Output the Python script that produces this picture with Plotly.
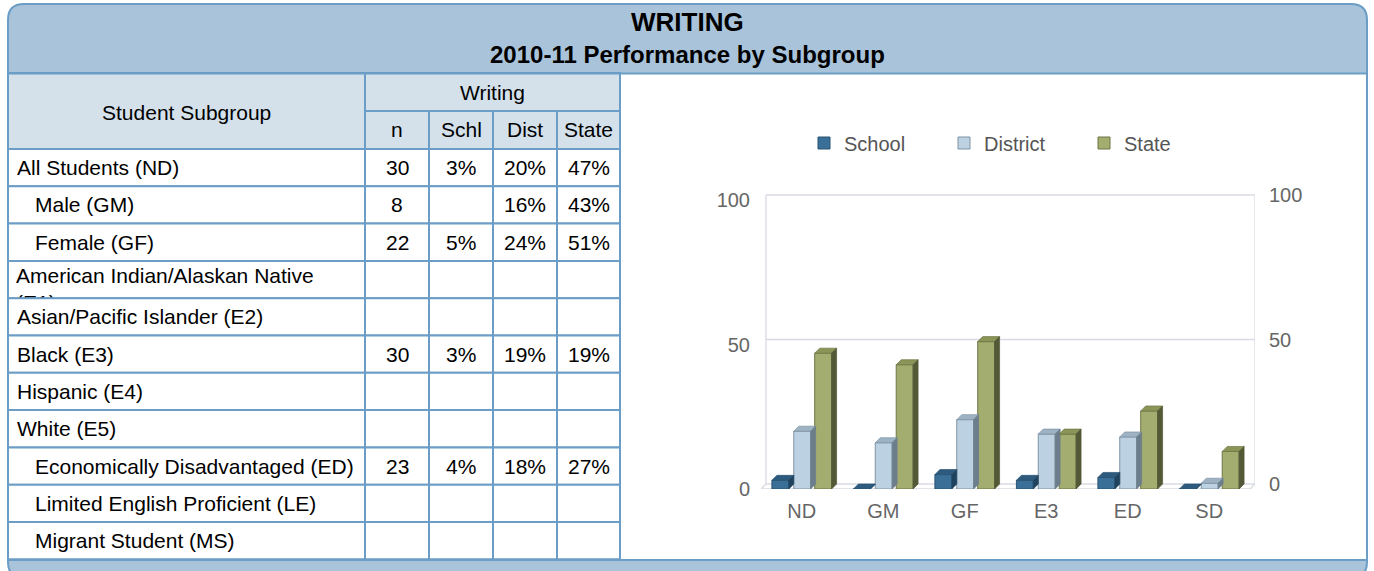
import plotly.graph_objects as go

W, H = 1374, 571

# ---------------- data ----------------
subgroups = ["All Students (ND)", "Male (GM)", "Female (GF)",
             "American Indian/Alaskan Native (E1)", "Asian/Pacific Islander (E2)",
             "Black (E3)", "Hispanic (E4)", "White (E5)",
             "Economically Disadvantaged (ED)", "Limited English Proficient (LE)",
             "Migrant Student (MS)"]
indented = [False, True, True, False, False, False, False, False, True, True, True]
n_col = ["30", "8", "22", "", "", "30", "", "", "23", "", ""]
schl_col = ["3%", "", "5%", "", "", "3%", "", "", "4%", "", ""]
dist_col = ["20%", "16%", "24%", "", "", "19%", "", "", "18%", "", ""]
state_col = ["47%", "43%", "51%", "", "", "19%", "", "", "27%", "", ""]
col_headers = ["n", "Schl", "Dist", "State"]

categories = ["ND", "GM", "GF", "E3", "ED", "SD"]
school_vals = [3, 0, 5, 3, 4, 0]
district_vals = [20, 16, 24, 19, 18, 2]
state_vals = [47, 43, 51, 19, 27, 13]
y_ticks = [0, 50, 100]

# ---------------- helpers ----------------
def px(x):
    return x / W

def py(y):
    return 1 - y / H

FONT = "Liberation Sans, Arial, sans-serif"
BORDER = "#6b9dc6"
HEAD = "#a9c4da"
CELLH = "#d4e1eb"
TS = 21  # table font size

shapes = []
annotations = []

# outer rounded box
L, T, R, B, r = 8, 4, 1367, 578, 16
path = (f"M {px(L)},{py(T + r)} Q {px(L)},{py(T)} {px(L + r)},{py(T)} "
        f"L {px(R - r)},{py(T)} Q {px(R)},{py(T)} {px(R)},{py(T + r)} "
        f"L {px(R)},{py(B - r)} Q {px(R)},{py(B)} {px(R - r)},{py(B)} "
        f"L {px(L + r)},{py(B)} Q {px(L)},{py(B)} {px(L)},{py(B - r)} Z")
shapes.append(dict(type="path", path=path, xref="paper", yref="paper",
                   fillcolor=HEAD, line=dict(color=BORDER, width=2), layer="below"))

# white chart panel
shapes.append(dict(type="rect", xref="paper", yref="paper", x0=px(621), x1=px(1366),
                   y0=py(559), y1=py(74), fillcolor="white", line=dict(width=0), layer="below"))

# table geometry
cols = [8, 365, 429, 493, 557, 620]
top_h, mid_h, data_top = 73, 111, 149
RH = 37.3

def cell(x0, y0, x1, y1, fill):
    shapes.append(dict(type="rect", xref="paper", yref="paper", x0=px(x0), x1=px(x1),
                       y0=py(y1), y1=py(y0), fillcolor=fill,
                       line=dict(color=BORDER, width=2), layer="below"))

cell(cols[0], top_h, cols[1], data_top, CELLH)
cell(cols[1], top_h, cols[5], mid_h, CELLH)
for i in range(4):
    cell(cols[i + 1], mid_h, cols[i + 2], data_top, CELLH)
for rr in range(len(subgroups)):
    y0 = data_top + rr * RH
    for c in range(5):
        cell(cols[c], y0, cols[c + 1], y0 + RH, "white")

# header band bottom line
shapes.append(dict(type="line", xref="paper", yref="paper", x0=px(8), x1=px(1367),
                   y0=py(73.5), y1=py(73.5), line=dict(color=BORDER, width=2), layer="below"))
# bottom band line
shapes.append(dict(type="line", xref="paper", yref="paper", x0=px(8), x1=px(1367),
                   y0=py(560), y1=py(560), line=dict(color=BORDER, width=2), layer="below"))

def ann(text, x, y, size=TS, xanchor="center", bold=False, color="black"):
    annotations.append(dict(text=f"<b>{text}</b>" if bold else text, x=px(x), y=py(y),
                            xref="paper", yref="paper", xanchor=xanchor, yanchor="middle",
                            showarrow=False, font=dict(family=FONT, size=size, color=color)))

ann("WRITING", 687, 22, size=26, bold=True)
ann("2010-11 Performance by Subgroup", 687, 55, size=24, bold=True)
ann("Student Subgroup", (cols[0] + cols[1]) / 2, 112)
ann("Writing", (cols[1] + cols[5]) / 2, 93)
for i, h in enumerate(col_headers):
    ann(h, (cols[i + 1] + cols[i + 2]) / 2, 130)

for rr, name in enumerate(subgroups):
    yc = data_top + rr * RH + RH / 2
    if rr != 3:
        ann(name, 33 if indented[rr] else 15, yc, xanchor="left")
    for c, colvals in enumerate([n_col, schl_col, dist_col, state_col]):
        if colvals[rr]:
            ann(colvals[rr], (cols[c + 1] + cols[c + 2]) / 2, yc)

# ---------------- chart ----------------
fig = go.Figure()

BW = 0.207
offsets = [-0.366, -0.098, 0.159]
DX = 5 / 81.5
PXU = 2.89
DY = 5 / PXU
series = [
    ("School", school_vals, "#3a6f98", "#2d5a7d", "#1f435e", "#2a5475"),
    ("District", district_vals, "#bcd1e2", "#9db2c3", "#6c7e8c", "#7f93a3"),
    ("State", state_vals, "#a4ad70", "#8b9557", "#535936", "#6f7646"),
]
xs = list(range(len(categories)))

for (name, vals, front, topc, sidec, edge), off in zip(series, offsets):
    fig.add_trace(go.Bar(x=xs, y=vals, width=BW, offset=off, name=name,
                         marker=dict(color=front, line=dict(color=edge, width=1)),
                         hoverinfo="skip"))
    tx, ty, sx, sy = [], [], [], []
    for i, v in zip(xs, vals):
        x0 = i + off
        x1 = x0 + BW
        tx += [x0, x0 + DX, x1 + DX, x1, x0, None]
        ty += [v, v + DY, v + DY, v, v, None]
        sx += [x1, x1 + DX, x1 + DX, x1, x1, None]
        sy += [v, v + DY, DY, 0, v, None]
    fig.add_trace(go.Scatter(x=tx, y=ty, mode="lines", fill="toself", fillcolor=topc,
                             line=dict(color=edge, width=0.7), showlegend=False,
                             hoverinfo="skip"))
    fig.add_trace(go.Scatter(x=sx, y=sy, mode="lines", fill="toself", fillcolor=sidec,
                             line=dict(color=sidec, width=0.7), showlegend=False,
                             hoverinfo="skip"))

# empty trace so the right-hand (back-plane) axis is drawn
fig.add_trace(go.Scatter(x=[], y=[], yaxis="y2", showlegend=False, hoverinfo="skip"))

# clipped multi-line subgroup label (wraps inside its cell)
row3_top = data_top + 3 * RH
fig.add_trace(go.Scatter(x=[16], y=[row3_top + 6], mode="text",
                         text=["American Indian/Alaskan Native<br>(E1)"],
                         textposition="bottom right",
                         textfont=dict(family=FONT, size=TS, color="black"),
                         xaxis="x3", yaxis="y3", showlegend=False, hoverinfo="skip",
                         cliponaxis=True))

# chart frame (back walls, floor, gridlines) in data coordinates
GRID = "#d9dbe3"
for t in y_ticks:
    shapes.append(dict(type="line", xref="x", yref="y", x0=-0.5 + DX, x1=len(xs) - 0.5 + DX,
                       y0=t + DY, y1=t + DY, line=dict(color=GRID, width=1.3), layer="below"))
for xw in [-0.5 + DX, len(xs) - 0.5 + DX]:
    shapes.append(dict(type="line", xref="x", yref="y", x0=xw, x1=xw, y0=DY,
                       y1=y_ticks[-1] + DY, line=dict(color=GRID, width=1.3), layer="below"))
shapes.append(dict(type="line", xref="x", yref="y", x0=-0.5, x1=len(xs) - 0.5, y0=0, y1=0,
                   line=dict(color=GRID, width=1.3), layer="below"))
for xe in [-0.5, len(xs) - 0.5]:
    shapes.append(dict(type="line", xref="x", yref="y", x0=xe, x1=xe + DX, y0=0, y1=DY,
                       line=dict(color=GRID, width=1.3), layer="below"))

y_top = (489 - 194) / PXU
axis_common = dict(showgrid=False, zeroline=False, showline=False, automargin=False,
                   fixedrange=True)
fig.update_layout(
    width=W, height=H, margin=dict(l=0, r=0, t=0, b=0, pad=0, autoexpand=False),
    paper_bgcolor="white", plot_bgcolor="rgba(0,0,0,0)",
    barmode="overlay", shapes=shapes, annotations=annotations,
    font=dict(family=FONT),
    xaxis=dict(domain=[px(761), px(1255)], range=[-0.5, len(xs) - 0.5 + DX],
               tickvals=xs, ticktext=categories, ticks="outside", ticklen=4,
               tickcolor="rgba(0,0,0,0)",
               tickfont=dict(size=20, color="#666666", family=FONT), **axis_common),
    yaxis=dict(domain=[py(489), py(194)], range=[0, y_top], tickvals=y_ticks,
               ticks="outside", ticklen=6, tickcolor="rgba(0,0,0,0)",
               tickfont=dict(size=20, color="#666666", family=FONT), **axis_common),
    yaxis2=dict(overlaying="y", side="right", anchor="x", range=[-DY, y_top - DY],
                tickvals=y_ticks, ticks="outside", ticklen=9, tickcolor="rgba(0,0,0,0)",
                tickfont=dict(size=20, color="#666666", family=FONT), **axis_common),
    xaxis3=dict(domain=[px(8), px(365)], range=[8, 365], visible=False, fixedrange=True,
                automargin=False, anchor="y3"),
    yaxis3=dict(domain=[py(row3_top + RH - 1), py(row3_top + 1)],
                range=[row3_top + RH - 1, row3_top + 1], visible=False, fixedrange=True,
                automargin=False, anchor="x3"),
    legend=dict(orientation="h", x=px(804), y=py(143), xanchor="left", yanchor="middle",
                font=dict(size=20, color="#555555", family=FONT), bgcolor="rgba(0,0,0,0)",
                entrywidth=95, entrywidthmode="pixels", traceorder="normal"),
    showlegend=True,
)

fig.write_html(
    "out.html", config={"displayModeBar": False},
    post_script=("document.documentElement.style.margin='0';"
                 "document.body.style.margin='0';"),
)
